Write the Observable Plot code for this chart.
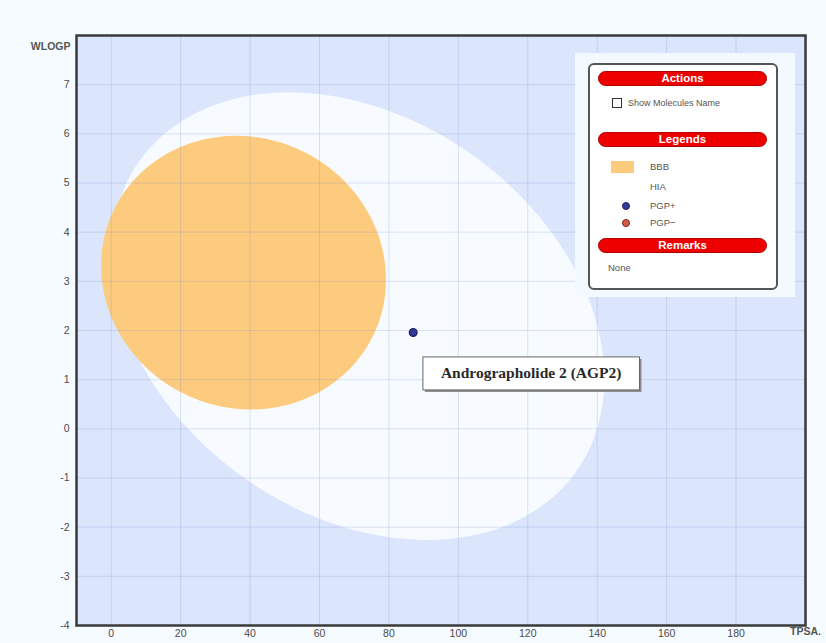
<!DOCTYPE html>
<html>
<head>
<meta charset="utf-8">
<script src="https://cdn.jsdelivr.net/npm/d3@7"></script>
<script src="https://cdn.jsdelivr.net/npm/@observablehq/plot@0.6"></script>
<style>
  html, body { margin: 0; padding: 0; background: #f6fbff; }
  #wrap { position: relative; width: 826px; height: 643px; overflow: hidden; font-family: "Liberation Sans", Arial, sans-serif; }
  #wrap svg { position: absolute; left: 0; top: 0; }
  .backdrop { position: absolute; left: 575px; top: 53px; width: 220px; height: 244px; background: #f4f9ff; }
  .legend { position: absolute; left: 588px; top: 63px; width: 186px; height: 223px; border: 2px solid #555; border-radius: 6px; background: #ffffff; }
  .hdr { position: absolute; left: 8px; width: 167px; height: 13px; background: #ee0000; border: 1px solid #b00000; border-radius: 8px; color: #fff; font-weight: bold; font-size: 11.5px; line-height: 13px; text-align: center; }
  .lbl { position: absolute; font-size: 9.5px; color: #555; line-height: 12px; white-space: nowrap; }
  .cb { position: absolute; left: 22px; top: 33px; width: 8px; height: 8px; border: 1px solid #333; background: #fff; }
  .sw { position: absolute; left: 21px; top: 96px; width: 23px; height: 12px; }
  .dot { position: absolute; width: 6px; height: 6px; border-radius: 50%; }
</style>
</head>
<body>
<div id="wrap"></div>
<script>
// ---- data ----
const xTicks = [0, 20, 40, 60, 80, 100, 120, 140, 160, 180];
const yTicks = [-4, -3, -2, -1, 0, 1, 2, 3, 4, 5, 6, 7];
const yGrid = [-3, -2, -1, 0, 1, 2, 3, 4, 5, 6, 7];

// BOILED-Egg regions (centre, full axes, rotation in degrees)
const zoneNames  = ["HIA", "BBB"];
const zoneCx     = [71.051, 38.117];
const zoneCy     = [2.292, 3.177];
const zoneWidth  = [142.081, 82.061];
const zoneHeight = [8.740, 5.557];
const zoneAngle  = [-1.031325, -0.2];
const zoneColor  = ["#f7fbff", "#fdcb7e"];

// molecules
const molNames = ["Andrographolide 2 (AGP2)"];
const molTPSA  = [86.99];
const molWLOGP = [1.96];
const molPGP   = ["PGP+"];

// ---- build ellipse outlines from the region parameters ----
function outline(i) {
  const th = zoneAngle[i] * Math.PI / 180;
  const a = zoneWidth[i] / 2, b = zoneHeight[i] / 2;
  const pts = [];
  for (let k = 0; k < 360; k += 2) {
    const t = k * Math.PI / 180;
    pts.push({
      zone: zoneNames[i],
      x: zoneCx[i] + a * Math.cos(t) * Math.cos(th) - b * Math.sin(t) * Math.sin(th),
      y: zoneCy[i] + a * Math.cos(t) * Math.sin(th) + b * Math.sin(t) * Math.cos(th)
    });
  }
  return pts;
}
const molecules = molNames.map((n, i) => ({name: n, tpsa: molTPSA[i], wlogp: molWLOGP[i], pgp: molPGP[i]}));

const fontAxis = "Liberation Sans, Arial, sans-serif";

const chart = Plot.plot({
  width: 826,
  height: 643,
  marginLeft: 76,
  marginRight: 21,
  marginTop: 35,
  marginBottom: 18,
  style: {background: "transparent", fontFamily: fontAxis, fontSize: "10.5px", color: "#4a4a4a"},
  x: {domain: [-10, 200], ticks: xTicks, tickSize: 0, tickPadding: 4, label: null, tickFormat: d => String(d)},
  y: {domain: [-4, 8], ticks: yTicks, tickSize: 0, tickPadding: 7, label: null, tickFormat: d => String(d)},
  marks: [
    Plot.frame({fill: "#dbe6fc", stroke: null}),
    Plot.line(outline(0), {x: "x", y: "y", fill: zoneColor[0], stroke: "none", curve: "linear-closed"}),
    Plot.line(outline(1), {x: "x", y: "y", fill: zoneColor[1], stroke: "none", curve: "linear-closed"}),
    Plot.ruleX(xTicks, {stroke: "#6f86c8", strokeOpacity: 0.22, strokeWidth: 1}),
    Plot.ruleY(yGrid, {stroke: "#6f86c8", strokeOpacity: 0.22, strokeWidth: 1}),
    Plot.frame({stroke: "#3a3a3a", strokeWidth: 2.5}),
    Plot.dot(molecules, {x: "tpsa", y: "wlogp", r: 3.8, fill: d => d.pgp === "PGP+" ? "#34389a" : "#c0392b", stroke: d => d.pgp === "PGP+" ? "#1c1f66" : "#7a1d14", strokeWidth: 1.4}),
    Plot.text(molecules, {x: "tpsa", y: "wlogp", text: "name", dx: 118, dy: 41, fontFamily: "Liberation Serif, Times New Roman, serif", fontSize: 15.5, fill: "#2a2a2a", fontWeight: "bold"}),
    Plot.text(["WLOGP"], {frameAnchor: "top-left", dx: -6, dy: 7, textAnchor: "end", fill: "#555", fontSize: 10.5, fontWeight: "bold"}),
    Plot.text(["TPSA."], {frameAnchor: "bottom-right", dx: 0, dy: 9, textAnchor: "middle", fill: "#555", fontSize: 10.5, fontWeight: "bold"})
  ]
});

const wrap = document.getElementById("wrap");
wrap.appendChild(chart);

// box behind the molecule label (same transform as the text element)
const svgNS = "http://www.w3.org/2000/svg";
chart.querySelectorAll("text").forEach(t => {
  if (molNames.includes(t.textContent)) {
    const bb = t.getBBox();
    const padX = 18, padY = 7.5;
    const tr = t.getAttribute("transform");
    const g = t.parentNode;
    const mk = (dx, fill, stroke) => {
      const r = document.createElementNS(svgNS, "rect");
      r.setAttribute("x", bb.x - padX + dx); r.setAttribute("y", bb.y - padY + dx);
      r.setAttribute("width", bb.width + 2 * padX); r.setAttribute("height", bb.height + 2 * padY);
      r.setAttribute("fill", fill);
      if (stroke) { r.setAttribute("stroke", stroke); r.setAttribute("stroke-width", 1); }
      if (tr) r.setAttribute("transform", tr);
      return r;
    };
    const sh = mk(2, "#8a8a8a", null);
    const box = mk(0, "#ffffff", "#666");
    g.insertBefore(box, t);
    g.insertBefore(sh, box);
  }
});

// legend panel (HTML)
const back = document.createElement("div");
back.className = "backdrop";
wrap.appendChild(back);
const lg = document.createElement("div");
lg.className = "legend";
lg.innerHTML = `
  <div class="hdr" style="top:6px">Actions</div>
  <div class="cb"></div>
  <div class="lbl" style="left:38px; top:32px; font-size:9px">Show Molecules Name</div>
  <div class="hdr" style="top:67px">Legends</div>
  <div class="sw" style="background:${zoneColor[1]}"></div>
  <div class="lbl" style="left:60px; top:96px">${zoneNames[1]}</div>
  <div class="lbl" style="left:60px; top:116px">${zoneNames[0]}</div>
  <div class="dot" style="left:32px; top:137px; background:#34389a; border:1px solid #1c1f66"></div>
  <div class="lbl" style="left:60px; top:135px">PGP+</div>
  <div class="dot" style="left:32px; top:154px; background:#d0604a; border:1px solid #7a1d14"></div>
  <div class="lbl" style="left:60px; top:152px">PGP&minus;</div>
  <div class="hdr" style="top:173px">Remarks</div>
  <div class="lbl" style="left:18px; top:197px">None</div>
`;
wrap.appendChild(lg);
</script>
</body>
</html>
